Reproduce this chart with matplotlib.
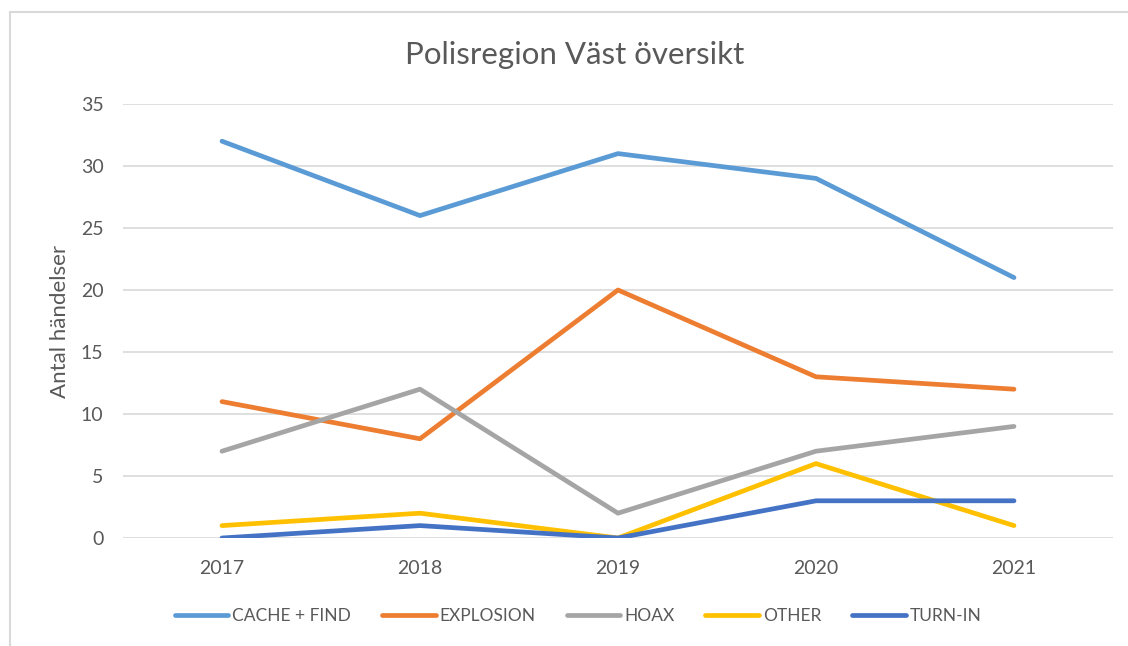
import matplotlib.pyplot as plt
from matplotlib.patches import Rectangle

years = ["2017", "2018", "2019", "2020", "2021"]
cache_find = [32, 26, 31, 29, 21]
explosion = [11, 8, 20, 13, 12]
hoax = [7, 12, 2, 7, 9]
other = [1, 2, 0, 6, 1]
turn_in = [0, 1, 0, 3, 3]

series = [
    ("CACHE + FIND", cache_find, "#5B9BD5"),
    ("EXPLOSION", explosion, "#ED7D31"),
    ("HOAX", hoax, "#A5A5A5"),
    ("OTHER", other, "#FFC000"),
    ("TURN-IN", turn_in, "#4472C4"),
]

plt.rcParams['font.family'] = ['Lato', 'DejaVu Sans']
txt = "#595959"

fig = plt.figure(figsize=(11.28, 6.46), dpi=100)
# chart border (only left/top visible in the reference)
fig.patches.append(Rectangle((10 / 1128, -0.1), 1.2, 1 - 12 / 646 + 0.1,
                             transform=fig.transFigure, fill=False,
                             edgecolor="#D9D9D9", linewidth=1.5))

ax = fig.add_axes([123 / 1128, 1 - 538 / 646, (1113 - 123) / 1128, (538 - 104) / 646])
x = list(range(len(years)))
for name, vals, col in series:
    ax.plot(x, vals, color=col, linewidth=3.4, label=name, solid_capstyle="round")

ax.set_xlim(-0.5, len(years) - 0.5)
ax.set_ylim(0, 35)
ax.set_yticks(range(0, 36, 5))
ax.set_xticks(x)
ax.set_xticklabels(years)
ax.grid(axis="y", color="#D9D9D9", linewidth=1.2)
ax.set_axisbelow(True)
for s in ax.spines.values():
    s.set_visible(False)
ax.tick_params(length=0, labelsize=14, colors=txt)
ax.tick_params(axis="y", pad=14)
ax.tick_params(axis="x", pad=16)
ax.set_ylabel("Antal händelser", fontsize=16, color=txt, labelpad=8)

fig.text(575 / 1128, 1 - 55 / 646, "Polisregion Väst översikt", ha="center", va="center",
         fontsize=22.5, color=txt)

fig.legend(loc="center", bbox_to_anchor=(578 / 1128, 1 - 616 / 646), ncol=5, frameon=False,
           fontsize=12.5, labelcolor=txt, handlelength=3.1, columnspacing=1.8,
           handletextpad=0.2)

fig.savefig("out.png", dpi=100)
